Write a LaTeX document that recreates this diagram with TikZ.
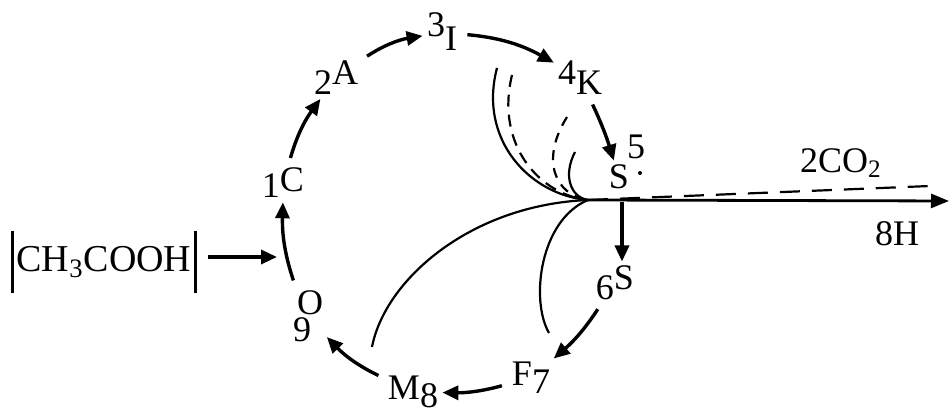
\documentclass[tikz,border=0pt]{standalone}
\usepackage{fontspec}
\setmainfont{Liberation Serif}
\usetikzlibrary{arrows.meta}
\tikzset{
  lbl/.style={inner sep=1pt, font=\fontsize{18}{20}\selectfont},
  cyc/.style={line width=1.7pt, -{Triangle[length=8pt,width=7pt]}, shorten <=4pt, shorten >=1pt},
  branch/.style={line width=1.1pt},
}
\begin{document}
\begin{tikzpicture}[x=0.5pt,y=-0.5pt]
\useasboundingbox (0,0) rectangle (949,415);
% acetic acid entering the cycle
\node[lbl, font=\fontsize{19}{20}\selectfont, minimum height=31pt, inner xsep=2pt] (acid) at (104,262) {CH\textsubscript{3}COOH};
\draw[line width=1.5pt] (acid.north west) -- (acid.south west);
\draw[line width=1.5pt] (acid.north east) -- (acid.south east);
\coordinate (entry) at (279,257);
\draw[cyc, shorten <=6pt] (acid.east |- entry) -- (entry);
% the cycle
\node[lbl] (c1) at (283,183) {\raisebox{-3pt}{1}C};
\node[lbl] (a2) at (336,78) {2\raisebox{5pt}{A}};
\node[lbl] (i3) at (442,32) {\raisebox{7pt}{3}I};
\node[lbl] (k4) at (580,78) {\raisebox{5pt}{4}K};
\node[lbl] (s5) at (619,177) {S};
\node[lbl] (n5) at (636,147) {5};
\fill (640,173) circle (2);
\node[lbl] (s6) at (615,283) {6\raisebox{5pt}{S}};
\node[lbl] (f7) at (531,378) {F\raisebox{-4pt}{7}};
\node[lbl] (m8) at (413,392) {M\raisebox{-4pt}{8}};
\node[lbl, align=center, font=\fontsize{18}{13.5}\selectfont] (o9) at (306,316) {\hspace*{4pt}O\\9\hspace*{4pt}};
\foreach \a/\b/\bend in {o9/c1/10, c1/a2/10, a2/i3/12, i3/k4/12, k4/s5/4, s6/f7/8, f7/m8/8, m8/o9/10}
  \draw[cyc] (\a) to[bend left=\bend] (\b);
% branches meeting at the hub
\coordinate (hub) at (588,200);
\coordinate (l1) at (497,68);
\coordinate (l2) at (512,75);
\coordinate (l3) at (567,117);
\coordinate (l4) at (575,152);
\coordinate (mend) at (372,347);
\coordinate (fend) at (549,333);
\draw[branch] (l1) .. controls (478,140) and (530,195) .. (hub);
\draw[branch, dash pattern=on 6pt off 4pt] (l2) .. controls (495,145) and (540,195) .. (hub);
\draw[branch, dash pattern=on 5pt off 4pt] (l3) .. controls (540,160) and (555,195) .. (hub);
\draw[branch] (l4) .. controls (563,175) and (570,197) .. (hub);
\draw[branch] (mend) .. controls (385,280) and (470,205) .. (hub);
\draw[branch] (hub) .. controls (540,220) and (530,300) .. (fend);
% products leaving
\coordinate (out) at (949,201);
\coordinate (gas) at (930,186);
\coordinate (drop) at (622,202);
\draw[line width=1.4pt, -{Triangle[length=9pt,width=7pt]}] (hub) -- (out);
\draw[branch, dash pattern=on 10pt off 6pt] (hub) -- (gas);
\draw[cyc, shorten <=0pt] (drop) -- (s6.north -| drop);
\node[lbl] (co2) at (841,163) {2CO\textsubscript{2}};
\node[lbl] (h8) at (897,234) {8H};
\end{tikzpicture}
\end{document}
